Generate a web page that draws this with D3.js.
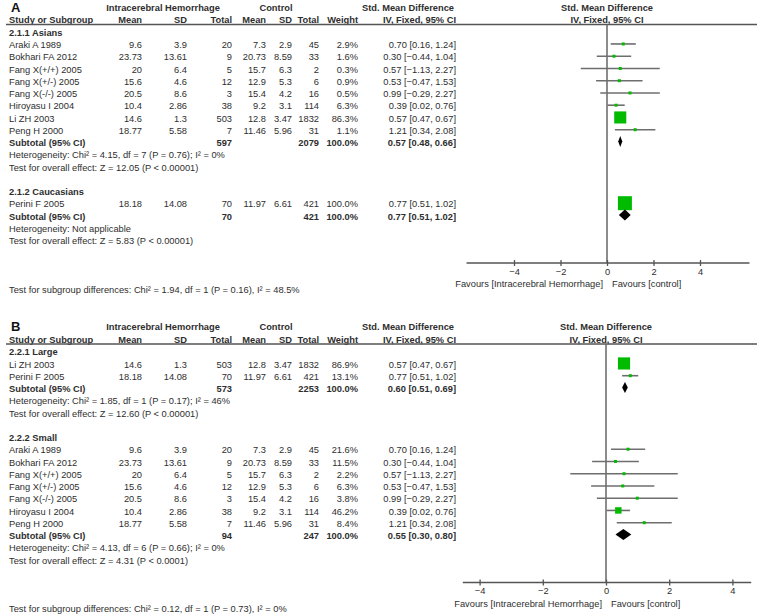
<!DOCTYPE html>
<html><head><meta charset="utf-8">
<script src="https://cdn.jsdelivr.net/npm/d3@7/dist/d3.min.js"></script>
<style>body{margin:0;background:#fff}svg{display:block;font-family:"Liberation Sans",Arial,sans-serif}</style>
</head><body><svg id="c" width="760" height="615"></svg>
<script>
// ---- data ----
const studyNames = ["Araki A 1989","Bokhari FA 2012","Fang X(+/+) 2005","Fang X(+/-) 2005","Fang X(-/-) 2005","Hiroyasu I 2004","Li ZH 2003","Peng H 2000","Perini F 2005"];
const ichMean  = [9.6, 23.73, 20, 15.6, 20.5, 10.4, 14.6, 18.77, 18.18];
const ichSD    = [3.9, 13.61, 6.4, 4.6, 8.6, 2.86, 1.3, 5.58, 14.08];
const ichTotal = [20, 9, 5, 12, 3, 38, 503, 7, 70];
const ctlMean  = [7.3, 20.73, 15.7, 12.9, 15.4, 9.2, 12.8, 11.46, 11.97];
const ctlSD    = [2.9, 8.59, 6.3, 5.3, 4.2, 3.1, 3.47, 5.96, 6.61];
const ctlTotal = [45, 33, 2, 6, 16, 114, 1832, 31, 421];
const smd      = [0.70, 0.30, 0.57, 0.53, 0.99, 0.39, 0.57, 1.21, 0.77];
const ciLow    = [0.16, -0.44, -1.13, -0.47, -0.29, 0.02, 0.47, 0.34, 0.51];
const ciHigh   = [1.24, 1.04, 2.27, 1.53, 2.27, 0.76, 0.67, 2.08, 1.02];

const panelLabels = ["A", "B"];
const groupTitles = [["2.1.1 Asians", "2.1.2 Caucasians"], ["2.2.1 Large", "2.2.2 Small"]];
const groupMembers = [[[0,1,2,3,4,5,6,7],[8]], [[6,8],[0,1,2,3,4,5,7]]];
const groupWeights = [[[2.9,1.6,0.3,0.9,0.5,6.3,86.3,1.1],[100.0]], [[86.9,13.1],[21.6,11.5,2.2,6.3,3.8,46.2,8.4]]];
const subtotalIch = [[597, 70], [573, 94]];
const subtotalCtl = [[2079, 421], [2253, 247]];
const subtotalSmd = [[0.57, 0.77], [0.60, 0.55]];
const subtotalLow = [[0.48, 0.51], [0.51, 0.30]];
const subtotalHigh = [[0.66, 1.02], [0.69, 0.80]];
const heterogeneity = [["Heterogeneity: Chi\u00b2 = 4.15, df = 7 (P = 0.76); I\u00b2 = 0%", "Heterogeneity: Not applicable"],
                       ["Heterogeneity: Chi\u00b2 = 1.85, df = 1 (P = 0.17); I\u00b2 = 46%", "Heterogeneity: Chi\u00b2 = 4.13, df = 6 (P = 0.66); I\u00b2 = 0%"]];
const overallEffect = [["Test for overall effect: Z = 12.05 (P < 0.00001)", "Test for overall effect: Z = 5.83 (P < 0.00001)"],
                       ["Test for overall effect: Z = 12.60 (P < 0.00001)", "Test for overall effect: Z = 4.31 (P < 0.0001)"]];
const subgroupTest = ["Test for subgroup differences: Chi\u00b2 = 1.94, df = 1 (P = 0.16), I\u00b2 = 48.5%",
                      "Test for subgroup differences: Chi\u00b2 = 0.12, df = 1 (P = 0.73), I\u00b2 = 0%"];
const axisTicks = [-4, -2, 0, 2, 4];
const axisDomains = [[-6, 6], [-4.5, 4.5]];
const favourLabels = ["Favours [Intracerebral Hemorrhage]", "Favours [control]"];

// ---- layout ----
const svg = d3.select("#c");
const panelOffset = [0, 319.5];
const axisRange = [[467.5, 746.5], [463.8, 748.2]];
const TXT = "#2e2e2e", FS = 9.3;
const colX = {name: 9, ichMean: 142, ichSD: 187, ichTotal: 232, ctlMean: 266, ctlSD: 292, ctlTotal: 319, weight: 358, ci: 456};
const step = 12.25, firstRow = 32.7;
const fmt2 = d3.format(".2f");
const ciText = (e, l, h) => `${fmt2(e)} [${fmt2(l)}, ${fmt2(h)}]`;

function txt(g, x, y, s, opt = {}) {
  return g.append("text").attr("x", x).attr("y", y).attr("dy", "0.35em")
    .attr("font-size", opt.size || FS).attr("fill", opt.fill || TXT)
    .attr("font-weight", opt.bold ? "bold" : "normal")
    .attr("text-anchor", opt.anchor || "start").text(s);
}

panelLabels.forEach((lab, p) => {
  const g = svg.append("g").attr("transform", `translate(0,${panelOffset[p]})`);
  const x = d3.scaleLinear().domain(axisDomains[p]).range(axisRange[p]);
  const x0 = x(0);
  txt(g, 11, 7, lab, {size: 13, bold: true, fill: "#111"});
  // headers
  txt(g, 163, 7.5, "Intracerebral Hemorrhage", {bold: true, anchor: "middle"});
  txt(g, 276, 7.5, "Control", {bold: true, anchor: "middle"});
  txt(g, 408, 7.5, "Std. Mean Difference", {bold: true, anchor: "middle"});
  txt(g, x0, 7.5, "Std. Mean Difference", {bold: true, anchor: "middle"});
  txt(g, colX.name, 20, "Study or Subgroup", {bold: true});
  [["Mean", colX.ichMean], ["SD", colX.ichSD], ["Total", colX.ichTotal], ["Mean", colX.ctlMean],
   ["SD", colX.ctlSD], ["Total", colX.ctlTotal], ["Weight", colX.weight], ["IV, Fixed, 95% CI", colX.ci]]
    .forEach(([s, cx]) => txt(g, cx, 20, s, {bold: true, anchor: "end"}));
  txt(g, x0, 20, "IV, Fixed, 95% CI", {bold: true, anchor: "middle"});
  g.append("line").attr("x1", 6).attr("x2", 757).attr("y1", 24.5).attr("y2", 24.5)
    .attr("stroke", "#555").attr("stroke-width", 1.5);

  const axisY = 263;
  // zero line
  g.append("line").attr("x1", x0).attr("x2", x0).attr("y1", 24.5).attr("y2", axisY)
    .attr("stroke", "#666").attr("stroke-width", 1.5);

  let row = 0;
  const rowY = r => firstRow + r * step;
  groupTitles[p].forEach((title, gi) => {
    txt(g, colX.name, rowY(row), title, {bold: true});
    row++;
    groupMembers[p][gi].forEach((si, k) => {
      const y = rowY(row);
      txt(g, colX.name, y, studyNames[si]);
      txt(g, colX.ichMean, y, String(ichMean[si]), {anchor: "end"});
      txt(g, colX.ichSD, y, String(ichSD[si]), {anchor: "end"});
      txt(g, colX.ichTotal, y, String(ichTotal[si]), {anchor: "end"});
      txt(g, colX.ctlMean, y, String(ctlMean[si]), {anchor: "end"});
      txt(g, colX.ctlSD, y, String(ctlSD[si]), {anchor: "end"});
      txt(g, colX.ctlTotal, y, String(ctlTotal[si]), {anchor: "end"});
      const w = groupWeights[p][gi][k];
      txt(g, colX.weight, y, w.toFixed(1) + "%", {anchor: "end"});
      txt(g, colX.ci, y, ciText(smd[si], ciLow[si], ciHigh[si]), {anchor: "end"});
      const my = y - 1;
      g.append("line").attr("x1", x(ciLow[si])).attr("x2", x(ciHigh[si])).attr("y1", my).attr("y2", my)
        .attr("stroke", "#6e6e6e").attr("stroke-width", 1.6);
      const sz = Math.max(3, 14 * w / 100);
      g.append("rect").attr("x", x(smd[si]) - sz / 2).attr("y", my - sz / 2).attr("width", sz).attr("height", sz)
        .attr("fill", "#00bb00");
      row++;
    });
    const y = rowY(row);
    txt(g, colX.name, y, "Subtotal (95% CI)", {bold: true});
    txt(g, colX.ichTotal, y, String(subtotalIch[p][gi]), {bold: true, anchor: "end"});
    txt(g, colX.ctlTotal, y, String(subtotalCtl[p][gi]), {bold: true, anchor: "end"});
    txt(g, colX.weight, y, "100.0%", {bold: true, anchor: "end"});
    txt(g, colX.ci, y, ciText(subtotalSmd[p][gi], subtotalLow[p][gi], subtotalHigh[p][gi]), {bold: true, anchor: "end"});
    const dy = y - 1.5;
    const pts = [[x(subtotalLow[p][gi]), dy], [x(subtotalSmd[p][gi]), dy - 5.5], [x(subtotalHigh[p][gi]), dy], [x(subtotalSmd[p][gi]), dy + 5.5]];
    g.append("path").attr("d", d3.line()(pts) + "Z").attr("fill", "#000");
    row++;
    txt(g, colX.name, rowY(row), heterogeneity[p][gi]); row++;
    txt(g, colX.name, rowY(row), overallEffect[p][gi]); row++;
    row++;
  });

  // axis
  const axis = d3.axisBottom(x).tickValues(axisTicks).tickSizeOuter(0).tickSize(3).tickPadding(2).tickFormat(d3.format("d"));
  const ag = g.append("g").attr("transform", `translate(0,${axisY})`).call(axis);
  ag.select(".domain").attr("stroke", "#555").attr("stroke-width", 1.5)
    .attr("d", `M${axisRange[p][0] - 1},0H${axisRange[p][1] + 3}`);
  ag.selectAll(".tick line").attr("y1", -3).attr("y2", 3).attr("stroke", "#555").attr("stroke-width", 1.3);
  ag.selectAll(".tick text").attr("font-size", FS).attr("fill", TXT).attr("font-family", "Liberation Sans, Arial, sans-serif");
  txt(g, x0 - 4, 283.5 - (p ? -0.5 : 0), favourLabels[0], {anchor: "end"});
  txt(g, x0 + 5, 283.5 - (p ? -0.5 : 0), favourLabels[1]);
  txt(g, colX.name, 289.5, subgroupTest[p]);
});
</script></body></html>
